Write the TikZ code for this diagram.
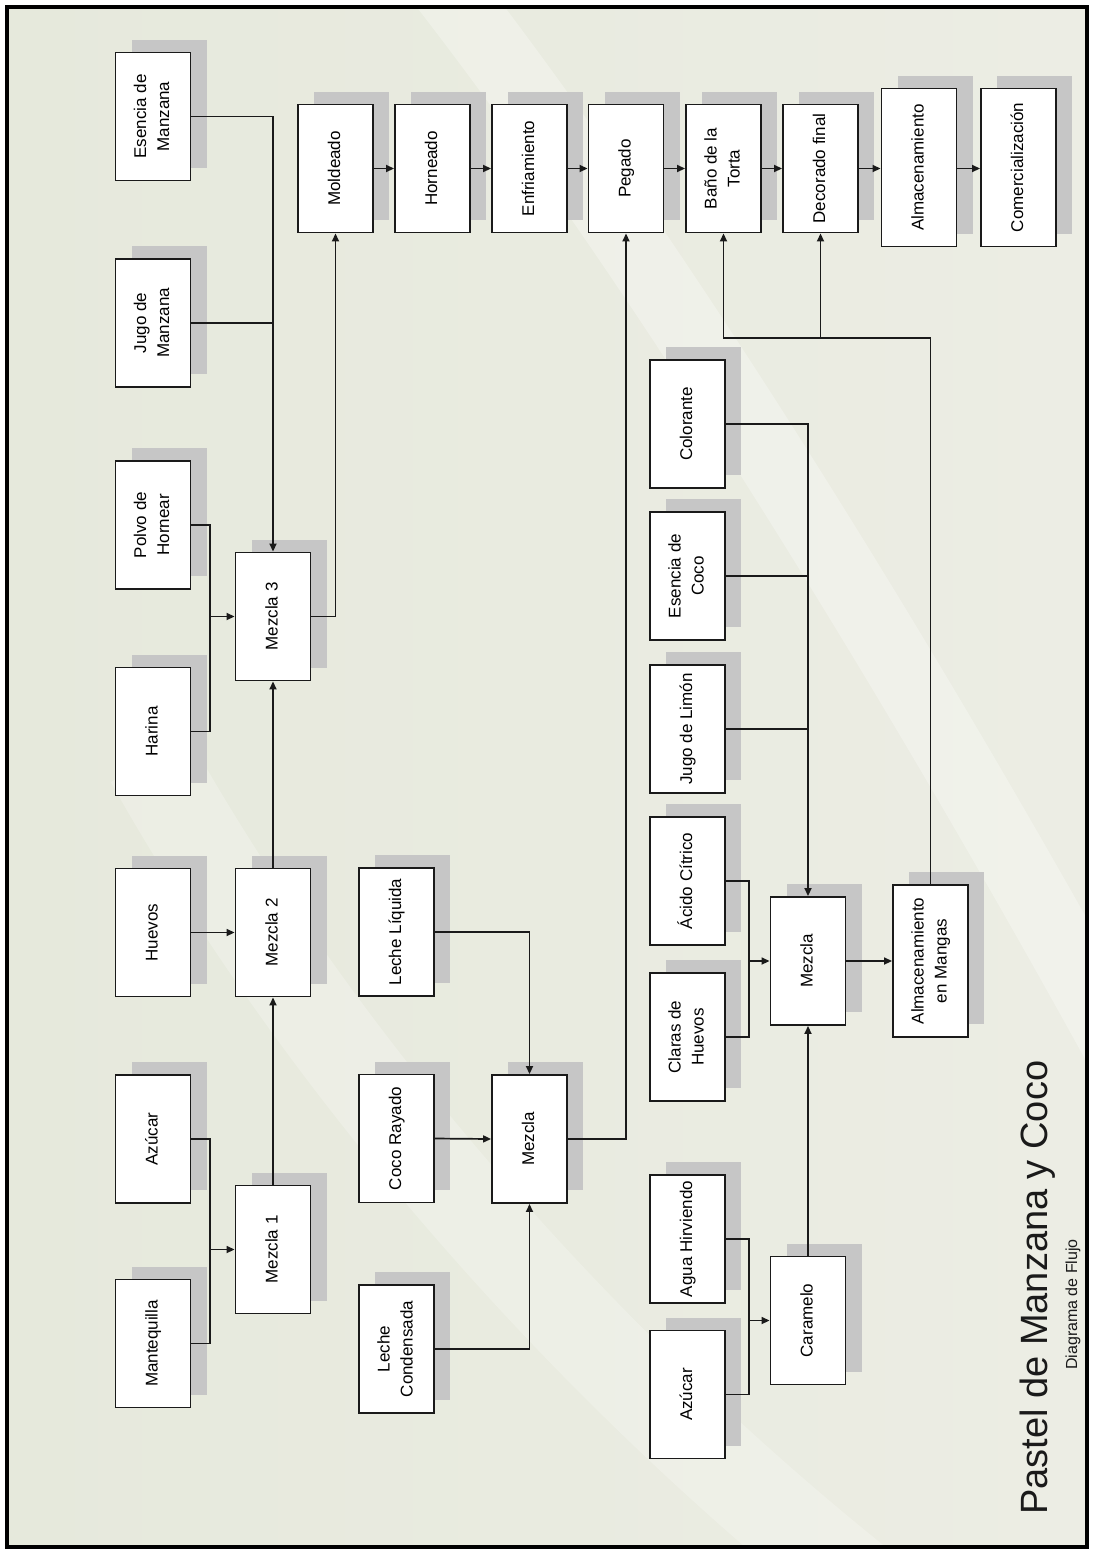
\documentclass[tikz,border=0pt]{standalone}
\usepackage{fontspec}
\setmainfont{Liberation Sans}
\usetikzlibrary{arrows.meta,shadows}
\definecolor{bgL}{HTML}{E6E9DC}
\definecolor{bgR}{HTML}{ECEDE4}
\definecolor{shcol}{HTML}{C6C6C6}
\definecolor{ln}{HTML}{1A1A1A}
\newcommand\rt[1]{\rotatebox{90}{\begin{tabular}{@{}c@{}}#1\end{tabular}}}
\begin{document}
\begin{tikzpicture}[x=1pt,y=-1pt,
  box/.style={draw=ln, line width=1.9pt, fill=white, inner sep=0pt,
    minimum width=75pt, minimum height=128pt,
    font=\fontsize{17}{23}\selectfont,
    general shadow={fill=shcol, shadow xshift=16pt, shadow yshift=13pt}},
  tallbox/.style={minimum height=158pt},
  con/.style={draw=ln, line width=1.7pt},
  arr/.style={con, -{Triangle[length=8pt,width=7pt]}}]
\useasboundingbox (0,0) rectangle (1094,1553);
% background
\fill[white] (0,0) rectangle (1094,1553);
\shade[left color=bgL, right color=bgR] (7,7) rectangle (1087,1547);
\begin{scope}
\clip (7,7) rectangle (1087,1547);
\draw[white, opacity=0.28, line width=70pt] (440,-20) .. controls (650,250) and (900,650) .. (1120,1050);
\draw[white, opacity=0.22, line width=90pt] (150,760) .. controls (330,1080) and (600,1380) .. (880,1600);
\end{scope}
\draw[black, line width=3.5pt] (7,7) rectangle (1087,1547);

% ingredient column A
\node[box] (esm) at (153,116.5) {\rt{Esencia de\\Manzana}};
\node[box] (jum) at (153,323) {\rt{Jugo de\\Manzana}};
\node[box] (pol) at (153,525) {\rt{Polvo de\\Hornear}};
\node[box] (har) at (153,731.5) {\rt{Harina}};
\node[box] (hue) at (153,932.5) {\rt{Huevos}};
\node[box] (azu) at (153,1139) {\rt{Azúcar}};
\node[box] (man) at (153,1343.5) {\rt{Mantequilla}};
% mixes
\node[box] (m3) at (273,616.5) {\rt{Mezcla 3}};
\node[box] (m2) at (273,932.5) {\rt{Mezcla 2}};
\node[box] (m1) at (273,1249.5) {\rt{Mezcla 1}};
% column C
\node[box] (lliq) at (396.5,932) {\rt{Leche Líquida}};
\node[box] (coco) at (396.5,1138.5) {\rt{Coco Rayado}};
\node[box] (lcon) at (396.5,1349) {\rt{Leche\\Condensada}};
\node[box] (mc) at (529.5,1139) {\rt{Mezcla}};
% process row
\node[box] (mol) at (335.5,168.5) {\rt{Moldeado}};
\node[box] (hor) at (432.5,168.5) {\rt{Horneado}};
\node[box] (enf) at (529.5,168.5) {\rt{Enfriamiento}};
\node[box] (peg) at (626,168.5) {\rt{Pegado}};
\node[box] (ban) at (723.5,168.5) {\rt{Baño de la\\Torta}};
\node[box] (dec) at (820.5,168.5) {\rt{Decorado final}};
\node[box,tallbox] (alm) at (919,167.5) {\rt{Almacenamiento}};
\node[box,tallbox] (com) at (1018.5,167.5) {\rt{Comercialización}};
% column D
\node[box] (col) at (687.5,424) {\rt{Colorante}};
\node[box] (esc) at (687.5,576) {\rt{Esencia de\\Coco}};
\node[box] (jli) at (687.5,729) {\rt{Jugo de Limón}};
\node[box] (aci) at (687.5,881) {\rt{Ácido Cítrico}};
\node[box] (cla) at (687.5,1037) {\rt{Claras de\\Huevos}};
\node[box] (agu) at (687.5,1239) {\rt{Agua Hirviendo}};
\node[box] (az2) at (687.5,1394.5) {\rt{Azúcar}};
\node[box] (md) at (808,961) {\rt{Mezcla}};
\node[box] (car) at (808,1320.5) {\rt{Caramelo}};
\node[box,minimum height=152pt] (amg) at (930.5,961) {\rt{Almacenamiento\\en Mangas}};

% title
\node[rotate=90, anchor=base west, inner sep=0pt, text=ln,
  font=\fontsize{38}{40}\selectfont] (title) at (1047,1515) {Pastel de Manzana y Coco};
\node[rotate=90, anchor=base west, inner sep=0pt, text=ln,
  font=\fontsize{16}{18}\selectfont] (sub) at (1077,1370) {Diagrama de Flujo};

% connectors: cake branch
\draw[arr] (esm.east) -| (m3.north);
\draw[con] (jum.east) -- (jum.east -| m3.north);
\coordinate (j3) at (210,616.5);
\draw[con] (pol.east) -| (j3);
\draw[con] (har.east) -| (j3);
\draw[arr] (j3) -- (m3.west);
\draw[arr] (m3.east) -| (mol.south);
\draw[arr] (m2.north) -- (m3.south);
\draw[arr] (hue.east) -- (m2.west);
\coordinate (j1) at (210,1249.5);
\draw[con] (azu.east) -| (j1);
\draw[con] (man.east) -| (j1);
\draw[arr] (j1) -- (m1.west);
\draw[arr] (m1.north) -- (m2.south);
% filling branch
\draw[arr] (lliq.east) -| (mc.north);
\draw[arr] (coco.east) -- (mc.west);
\draw[arr] (lcon.east) -| (mc.south);
\draw[arr] (mc.east) -| (peg.south);
% process chain
\draw[arr] (mol) -- (hor);
\draw[arr] (hor) -- (enf);
\draw[arr] (enf) -- (peg);
\draw[arr] (peg) -- (ban);
\draw[arr] (ban) -- (dec);
\draw[arr] (dec.east) -- (dec.east -| alm.west);
\draw[arr] (alm.east |- dec.east) -- (com.west |- dec.east);
% icing branch
\draw[arr] (col.east) -| (md.north);
\draw[con] (esc.east) -- (esc.east -| md.north);
\draw[con] (jli.east) -- (jli.east -| md.north);
\coordinate (j4) at (749,961);
\draw[con] (aci.east) -| (j4);
\draw[con] (cla.east) -| (j4);
\draw[arr] (j4) -- (md.west);
\coordinate (j5) at (749,1320.5);
\draw[con] (agu.east) -| (j5);
\draw[con] (az2.east) -| (j5);
\draw[arr] (j5) -- (car.west);
\draw[arr] (car.north) -- (md.south);
\draw[arr] (md.east) -- (amg.west);
\coordinate (tp) at (930.5,338);
\draw[arr] (amg.north) |- (ban.south |- tp) -- (ban.south);
\draw[arr] (dec.south |- tp) -- (dec.south);
\end{tikzpicture}
\end{document}
